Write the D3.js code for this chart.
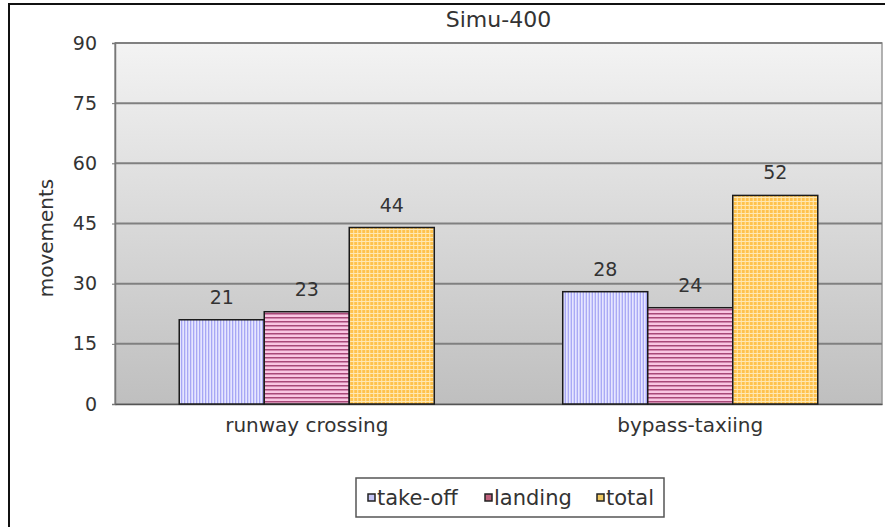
<!DOCTYPE html>
<html>
<head>
<meta charset="utf-8">
<script src="https://cdn.jsdelivr.net/npm/d3@7"></script>
<style>
  body { margin: 0; background: #fff; }
  text { font-family: "DejaVu Sans", sans-serif; fill: #333; }
</style>
</head>
<body>
<div id="chart"></div>
<script>
// chart values
var categories = ['runway crossing', 'bypass-taxiing'];
var seriesNames = ['take-off', 'landing', 'total'];
var takeOff = [21, 28];
var landing = [23, 24];
var total = [44, 52];
var yTicks = [0, 15, 30, 45, 60, 75, 90];

var W = 885, H = 527;
var margin = {top: 43, right: 3, bottom: 123, left: 115},
    width = W - margin.left - margin.right,
    height = H - margin.top - margin.bottom;

var font_family = '"DejaVu Sans", sans-serif';
var font_size_tick = 19;
var font_size_label = 20;
var font_size_title = 22;
var font_size_legend = 21;

var svg = d3.select('#chart')
  .append('svg')
    .attr('width', W)
    .attr('height', H);

var defs = svg.append('defs');

// background gradient of the plot area
var grad = defs.append('linearGradient')
    .attr('id', 'bg')
    .attr('x1', 0).attr('y1', 0).attr('x2', 0).attr('y2', 1);
grad.append('stop').attr('offset', '0%').attr('stop-color', '#f3f3f3');
grad.append('stop').attr('offset', '100%').attr('stop-color', '#bfbfbf');

// bar patterns
var pv = defs.append('pattern').attr('id', 'p0')
    .attr('patternUnits', 'userSpaceOnUse').attr('width', 3).attr('height', 3);
pv.append('rect').attr('width', 3).attr('height', 3).attr('fill', '#e6e6ff');
pv.append('rect').attr('x', 2).attr('width', 1).attr('height', 3).attr('fill', '#9494f2');

var ph = defs.append('pattern').attr('id', 'p1')
    .attr('patternUnits', 'userSpaceOnUse').attr('width', 4).attr('height', 4);
ph.append('rect').attr('width', 4).attr('height', 4).attr('fill', '#f9c6e2');
ph.append('rect').attr('y', 2).attr('width', 4).attr('height', 1.5).attr('fill', '#a84878');

var pc = defs.append('pattern').attr('id', 'p2')
    .attr('patternUnits', 'userSpaceOnUse').attr('width', 4).attr('height', 4);
pc.append('rect').attr('width', 4).attr('height', 4).attr('fill', '#ffc24c');
pc.append('rect').attr('x', 2).attr('width', 1).attr('height', 4).attr('fill', '#ffe8b4');
pc.append('rect').attr('y', 2).attr('width', 4).attr('height', 1).attr('fill', '#ffe8b4');

var patterns = ['url(#p0)', 'url(#p1)', 'url(#p2)'];
var iconFill = ['#c4c4f4', '#c0607c', '#f0c860'];

// outer frame
svg.append('rect')
    .attr('x', 9).attr('y', 4)
    .attr('width', W + 20).attr('height', H + 20)
    .attr('fill', 'none')
    .attr('stroke', '#111')
    .attr('stroke-width', 2);

var g = svg.append('g')
    .attr('transform', 'translate(' + margin.left + ',' + margin.top + ')');

// scales
var x0 = d3.scaleBand()
    .domain(categories)
    .range([0, width])
    .paddingInner(0.335)
    .paddingOuter(0.1675);

var x1 = d3.scaleBand()
    .domain(seriesNames)
    .range([0, x0.bandwidth()]);

var y = d3.scaleLinear()
    .domain([0, 90])
    .range([height, 0]);

// plot background
g.append('rect')
    .attr('width', width).attr('height', height)
    .attr('fill', 'url(#bg)')
    .attr('stroke', '#999')
    .attr('stroke-width', 1.5);

// gridlines
g.selectAll('.grid')
  .data(yTicks.slice(1))
  .enter().append('line')
    .attr('x1', 0).attr('x2', width)
    .attr('y1', function(d) { return y(d); })
    .attr('y2', function(d) { return y(d); })
    .attr('stroke', '#808080')
    .attr('stroke-width', 2);

// y axis
var yAxis = g.append('g')
    .call(d3.axisLeft(y).tickValues(yTicks).tickSize(3).tickPadding(15));
yAxis.select('.domain').attr('stroke', '#777').attr('stroke-width', 1.5);
yAxis.selectAll('.tick line').attr('stroke', '#777');
yAxis.selectAll('text')
    .style('font-family', font_family)
    .attr('font-size', font_size_tick)
    .attr('fill', '#333');

// x axis
var xAxis = g.append('g')
    .attr('transform', 'translate(0,' + height + ')')
    .call(d3.axisBottom(x0).tickSize(0).tickPadding(14));
xAxis.select('.domain').attr('stroke', '#555').attr('stroke-width', 1.5);
xAxis.selectAll('text')
    .style('font-family', font_family)
    .attr('font-size', font_size_label)
    .attr('fill', '#333');

// bars
var series = [takeOff, landing, total];
function rows(d, i) {
    return seriesNames.map(function(s, j) { return {s: s, j: j, v: series[j][i]}; });
}
var groups = g.selectAll('.grp')
  .data(categories)
  .enter().append('g')
    .attr('transform', function(d) { return 'translate(' + x0(d) + ',0)'; });

groups.selectAll('rect')
  .data(rows)
  .enter().append('rect')
    .attr('x', function(d) { return x1(d.s); })
    .attr('y', function(d) { return y(d.v); })
    .attr('width', x1.bandwidth())
    .attr('height', function(d) { return height - y(d.v); })
    .attr('fill', function(d) { return patterns[d.j]; })
    .attr('stroke', '#1a1a1a')
    .attr('stroke-width', 1.5);

groups.selectAll('.val')
  .data(rows)
  .enter().append('text')
    .attr('x', function(d) { return x1(d.s) + x1.bandwidth() / 2; })
    .attr('y', function(d) { return y(d.v) - 16; })
    .attr('text-anchor', 'middle')
    .attr('font-size', font_size_tick)
    .text(function(d) { return d.v; });

// y label
svg.append('text')
    .attr('transform', 'translate(53,238) rotate(-90)')
    .attr('text-anchor', 'middle')
    .attr('font-size', font_size_label)
    .text('movements');

// title
svg.append('text')
    .attr('x', margin.left + width / 2)
    .attr('y', 27)
    .attr('text-anchor', 'middle')
    .attr('font-size', font_size_title)
    .text('Simu-400');

// legend
var legend = svg.append('g').attr('transform', 'translate(356,478)');
legend.append('rect')
    .attr('width', 308).attr('height', 39)
    .attr('fill', '#fff')
    .attr('stroke', '#555')
    .attr('stroke-width', 1.5);

var legendX = [12, 129, 241];
var item = legend.selectAll('.item')
  .data(seriesNames)
  .enter().append('g')
    .attr('transform', function(d, i) { return 'translate(' + legendX[i] + ',0)'; });
item.append('rect')
    .attr('x', 0).attr('y', 16)
    .attr('width', 7).attr('height', 7)
    .attr('fill', function(d, i) { return iconFill[i]; })
    .attr('stroke', '#222')
    .attr('stroke-width', 1.5);
item.append('text')
    .attr('x', 9).attr('y', 27)
    .attr('font-size', font_size_legend)
    .text(function(d) { return d; });
</script>
</body>
</html>
